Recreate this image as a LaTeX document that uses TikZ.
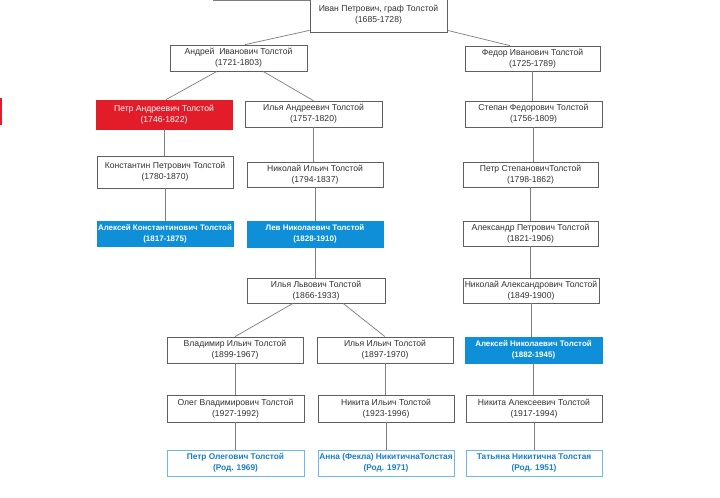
\documentclass[tikz,border=0pt]{standalone}
\usepackage{fontspec}
\setmainfont{Liberation Sans}
\definecolor{boxline}{RGB}{95,95,95}
\definecolor{conn}{RGB}{125,125,125}
\definecolor{txt}{RGB}{50,50,50}
\definecolor{bluefill}{RGB}{14,143,216}
\definecolor{redfill}{RGB}{226,28,40}
\definecolor{lightline}{RGB}{110,185,232}
\definecolor{bluetxt}{RGB}{25,125,205}
\tikzset{
  person/.style={draw=boxline, line width=0.7bp, fill=white, text=txt, align=center,
    minimum width=136bp, minimum height=26bp, inner sep=0pt,
    font=\fontsize{8.6bp}{10.8bp}\selectfont},
  famous/.style={person, draw=bluefill, fill=bluefill, text=white,
    font=\fontsize{7.95bp}{10.8bp}\selectfont\bfseries},
  redbox/.style={person, draw=redfill, fill=redfill, text=white},
  living/.style={person, draw=lightline, text=bluetxt,
    font=\fontsize{8.3bp}{10.8bp}\selectfont\bfseries},
  link/.style={draw=conn, line width=0.7bp}
}
\begin{document}
\begin{tikzpicture}[x=1bp,y=-1bp]
\useasboundingbox[fill=white] (0,0) rectangle (720,498);
% stray marks
\draw[conn, line width=0.7bp] (213,0.5) -- (310,0.5);
\draw[redfill, line width=1.6bp] (1,98) -- (1,125);
% nodes
\node[person, minimum width=137bp, minimum height=34bp] (ivan) at (378.5,15) {Иван Петрович, граф Толстой\\(1685-1728)};
\node[person, minimum width=137bp] (andrei) at (238.5,58) {Андрей\ \ Иванович Толстой\\(1721-1803)};
\node[redbox, minimum height=29bp] (petr) at (164,114.5) {Петр Андреевич Толстой\\(1746-1822)};
\node[person, minimum width=137bp] (ilyaA) at (313.5,114) {Илья Андреевич Толстой\\(1757-1820)};
\node[person, minimum width=135bp, minimum height=25bp] (fedor) at (532.5,58.5) {Федор Иванович Толстой\\(1725-1789)};
\node[person, minimum width=137bp] (stepan) at (533.5,114) {Степан Федорович Толстой\\(1756-1809)};
\node[person, minimum height=32bp] (konst) at (165,172) {Константин Петрович Толстой\\(1780-1870)};
\node[famous, minimum height=25bp] (alexK) at (165,233.5) {Алексей Константинович Толстой\\(1817-1875)};
\node[person, minimum height=25bp] (nikI) at (315,174.5) {Николай Ильич Толстой\\(1794-1837)};
\node[famous] (lev) at (315,234) {Лев Николаевич Толстой\\(1828-1910)};
\node[person, minimum width=135bp, minimum height=25bp] (petrS) at (530.5,174.5) {Петр СтепановичТолстой\\(1798-1862)};
\node[person, minimum width=135bp, minimum height=25bp] (alexP) at (530.5,233.5) {Александр Петрович Толстой\\(1821-1906)};
\node[person, minimum height=25bp] (nikA) at (531,290.5) {Николай Александрович Толстой\\(1849-1900)};
\node[famous, minimum width=137bp] (alexN) at (533.5,350) {Алексей Николаевич Толстой\\(1882-1945)};
\node[person, minimum width=138bp, minimum height=25bp] (ilyaL) at (316,290.5) {Илья Львович Толстой\\(1866-1933)};
\node[person] (vlad) at (235,350) {Владимир Ильич Толстой\\(1899-1967)};
\node[person] (ilyaI) at (385,350) {Илья Ильич Толстой\\(1897-1970)};
\node[person, minimum width=137bp, minimum height=27bp] (oleg) at (235.5,408.5) {Олег Владимирович Толстой\\(1927-1992)};
\node[person, minimum height=27bp] (nikita) at (386,408.5) {Никита Ильич Толстой\\(1923-1996)};
\node[person, minimum height=27bp] (nikitaA) at (534,408.5) {Никита Алексеевич Толстой\\(1917-1994)};
\node[living, minimum width=137bp] (petrO) at (235.5,463) {Петр Олегович Толстой\\(Род. 1969)};
\node[living] (anna) at (386,463) {Анна (Фекла) НикитичнаТолстая\\(Род. 1971)};
\node[living] (tatiana) at (534,463) {Татьяна Никитична Толстая\\(Род. 1951)};
% connectors
\draw[link] ([yshift=2bp]ivan.south west) -- ([xshift=6.5bp]andrei.north);
\draw[link] ([yshift=2bp]ivan.south east) -- ([xshift=-22.5bp]fedor.north);
\draw[link] ([xshift=-21.5bp]andrei.south) -- ([xshift=2bp]petr.north);
\draw[link] ([xshift=24.5bp]andrei.south) -- (ilyaA.north);
\draw[link] (petr.south) -- (petr.south |- konst.north);
\draw[link] (konst.south) -- (konst.south |- alexK.north);
\draw[link] (ilyaA.south) -- (ilyaA.south |- nikI.north);
\draw[link] (nikI.south) -- (nikI.south |- lev.north);
\draw[link] (lev.south) -- (lev.south |- ilyaL.north);
\draw[link] ([xshift=-23bp]ilyaL.south) -- (vlad.north);
\draw[link] ([xshift=27bp]ilyaL.south) -- (ilyaI.north);
\draw[link] (vlad.south) -- (vlad.south |- oleg.north);
\draw[link] (oleg.south) -- (oleg.south |- petrO.north);
\draw[link] (ilyaI.south) -- (ilyaI.south |- nikita.north);
\draw[link] (nikita.south) -- (nikita.south |- anna.north);
\draw[link] (fedor.south) -- (fedor.south |- stepan.north);
\draw[link] (stepan.south) -- (stepan.south |- petrS.north);
\draw[link] (petrS.south) -- (petrS.south |- alexP.north);
\draw[link] (alexP.south) -- (alexP.south |- nikA.north);
\draw[link] (nikA.south) -- (nikA.south |- alexN.north);
\draw[link] (alexN.south) -- (alexN.south |- nikitaA.north);
\draw[link] (nikitaA.south) -- (nikitaA.south |- tatiana.north);
\end{tikzpicture}
\end{document}
